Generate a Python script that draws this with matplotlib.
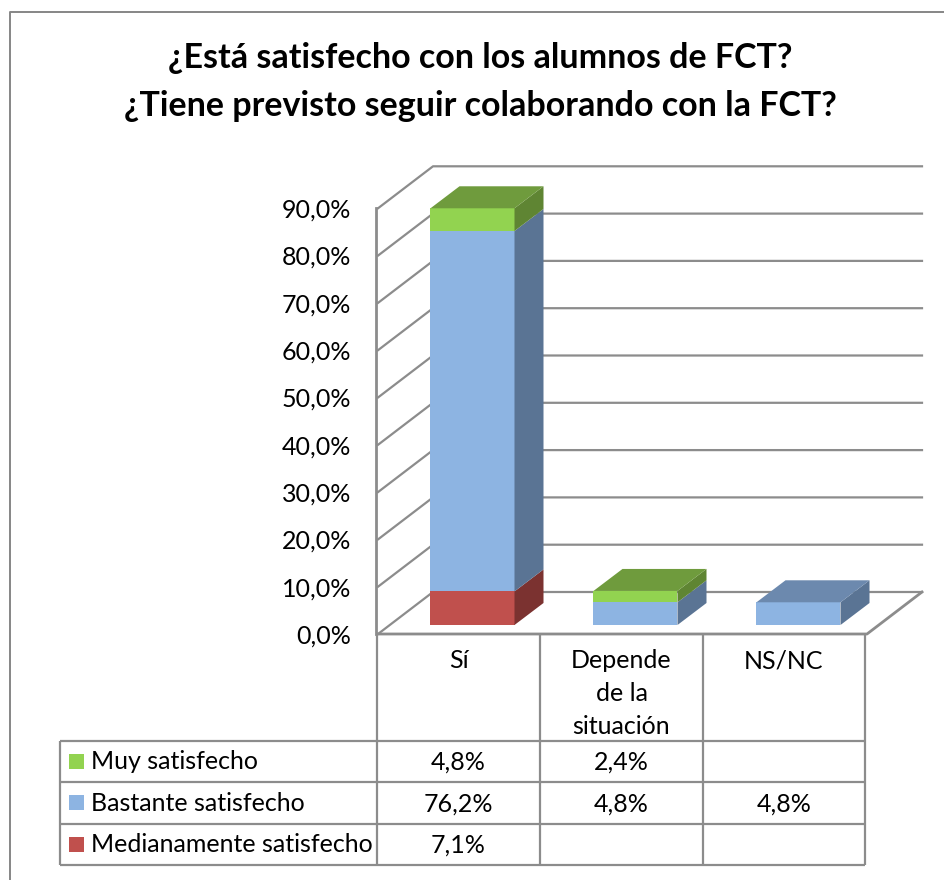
import matplotlib
matplotlib.use('Agg')
import matplotlib.pyplot as plt
from matplotlib.patches import Polygon, Rectangle
from matplotlib.transforms import Affine2D

categories = ['Sí', 'Depende\nde la\nsituación', 'NS/NC']
series_names = ['Muy satisfecho', 'Bastante satisfecho', 'Medianamente satisfecho']
muy = [4.8, 2.4, 0.0]
bastante = [76.2, 4.8, 4.8]
medianamente = [7.1, 0.0, 0.0]
y_ticks = [0, 10, 20, 30, 40, 50, 60, 70, 80, 90]
title_lines = ['¿Está satisfecho con los alumnos de FCT?', '¿Tiene previsto seguir colaborando con la FCT?']

# colours: front, side, top
RED = ('#c0504d', '#7b3230', '#94403d')
BLUE = ('#8db4e2', '#5a7494', '#6c89ae')
GREEN = ('#92d350', '#5f8533', '#6f9b3d')
GRID = '#8c8c8c'
BORDER = '#868686'

W, H = 944, 880
plt.rcParams['font.family'] = ['Lato', 'DejaVu Sans']

# pixel geometry of the chart
X0, Y0 = 378, 634       # front-left corner of the floor
CAT_W = 163.0           # pixels per category
PX_PER_PCT = 4.73       # pixels per percent
WALL_DX, WALL_DY = 55, 42
BAR_W = 84 / CAT_W
BAR_DX, BAR_DY = 29, 22
BAR_OFF_DX, BAR_OFF_DY = 13, 9

fig = plt.figure(figsize=(W / 100, H / 100), dpi=100)
ax = fig.add_axes([0, 0, 1, 1])
ax.set_xlim(-X0 / CAT_W, (W - X0) / CAT_W)
ax.set_ylim((Y0 - H) / PX_PER_PCT, Y0 / PX_PER_PCT)
ax.axis('off')

# transform for layout elements given in image pixels
px = Affine2D().scale(1, -1).translate(0, H)


def px_line(xs, ys, color=GRID, lw=1.6, zorder=1):
    ax.plot(xs, ys, color=color, lw=lw, transform=px, zorder=zorder, solid_capstyle='butt', clip_on=False)


# outer border
px_line([10, 10, W], [H, 12, 12], color=BORDER, lw=1.4)

for line, y in zip(title_lines, [58, 106]):
    ax.text(480, y, line, transform=px, ha='center', va='center', fontsize=24.5,
            fontweight='bold', color='black')

# walls and gridlines, drawn from the value axis
dx_wall = WALL_DX / CAT_W
dy_wall = WALL_DY / PX_PER_PCT
for t in y_ticks:
    ax.plot([0, dx_wall, 3 + dx_wall], [t, t + dy_wall, t + dy_wall], color=GRID, lw=1.6, zorder=1)
    ax.text(-27 / CAT_W, t - 0.4, f'{t:.1f}%'.replace('.', ','), ha='right', va='center', fontsize=18)
ax.plot([-0.01, -0.01], [0, y_ticks[-1]], color=GRID, lw=2, zorder=1)
ax.plot([0, 3, 3 + dx_wall], [0, 0, dy_wall], color=GRID, lw=2, zorder=1)

# stacked 3D bars
dx_bar = BAR_DX / CAT_W
dy_bar = BAR_DY / PX_PER_PCT
off_x = BAR_OFF_DX / CAT_W
off_y = BAR_OFF_DY / PX_PER_PCT
stack = [(medianamente, RED), (bastante, BLUE), (muy, GREEN)]
for i in range(len(categories)):
    left = i + 0.5 - BAR_W / 2 + off_x
    right = left + BAR_W
    bottom = off_y
    top_colors = None
    for values, colors in stack:
        v = values[i]
        if v == 0:
            continue
        ax.add_patch(Rectangle((left, bottom), BAR_W, v, fc=colors[0], ec='none', zorder=3))
        ax.add_patch(Polygon([(right, bottom), (right + dx_bar, bottom + dy_bar),
                              (right + dx_bar, bottom + v + dy_bar), (right, bottom + v)],
                             fc=colors[1], ec='none', zorder=3))
        bottom += v
        top_colors = colors
    ax.add_patch(Polygon([(left, bottom), (left + dx_bar, bottom + dy_bar),
                          (right + dx_bar, bottom + dy_bar), (right, bottom)],
                         fc=top_colors[2], ec='none', zorder=3))

# data table below the chart
TABLE_LEFT = 60
COL_X = [377, 540, 703, 865]
ROW_Y = [741, 782, 824, 865]
for x in COL_X:
    px_line([x, x], [Y0, ROW_Y[-1]])
for y in ROW_Y:
    px_line([TABLE_LEFT, COL_X[-1]], [y, y])
px_line([TABLE_LEFT, TABLE_LEFT], [ROW_Y[0], ROW_Y[-1]])

for c, label in enumerate(categories):
    ax.text((COL_X[c] + COL_X[c + 1]) / 2, 649, label, transform=px, ha='center', va='top',
            fontsize=18, linespacing=1.52)

table_rows = [muy, bastante, medianamente]
key_colors = [GREEN[0], BLUE[0], RED[0]]
for r, name in enumerate(series_names):
    yc = (ROW_Y[r] + ROW_Y[r + 1]) / 2
    ax.add_patch(Rectangle((69, yc - 8), 15, 15, transform=px, fc=key_colors[r], ec='none'))
    ax.text(91, yc, name, transform=px, ha='left', va='center', fontsize=18)
    for c, v in enumerate(table_rows[r]):
        if v:
            ax.text((COL_X[c] + COL_X[c + 1]) / 2, yc + 1, f'{v:.1f}%'.replace('.', ','), transform=px,
                    ha='center', va='center', fontsize=18)

fig.savefig('out.png', dpi=100, facecolor='white')
